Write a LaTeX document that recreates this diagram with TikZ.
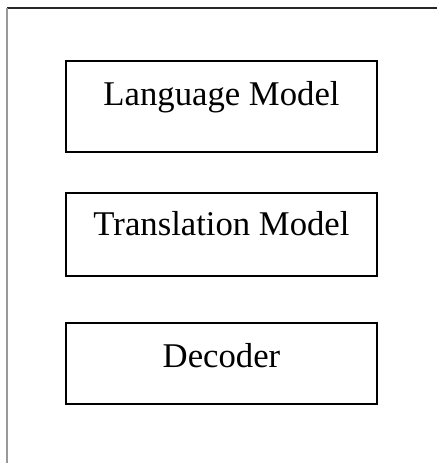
\documentclass[tikz,border=0pt]{standalone}
\usepackage{fontspec}
\setmainfont{Liberation Serif}
\begin{document}
\begin{tikzpicture}[x=1pt,y=-1pt,
  modelbox/.style={draw=black,line width=1.6pt,inner sep=0pt,minimum width=311pt,
    font=\fontsize{34.7}{40}\selectfont,anchor=north}]
\useasboundingbox (0,0) rectangle (437,463);
\coordinate (tl) at (7,8);
\coordinate (tr) at (437,8);
\coordinate (bl) at (7,463);
\draw[line width=2pt,black!85] (tl) -- (tr);
\draw[line width=1.8pt,black!40] (tl) -- (bl);
\node[modelbox,text height=45pt,text depth=46pt] (lm) at (221.5,60) {Language Model};
\node[modelbox,text height=43pt,text depth=40pt] (tm) at (221.5,192) {Translation Model};
\node[modelbox,text height=45pt,text depth=36pt] (dec) at (221.5,322) {Decoder};
\end{tikzpicture}
\end{document}
